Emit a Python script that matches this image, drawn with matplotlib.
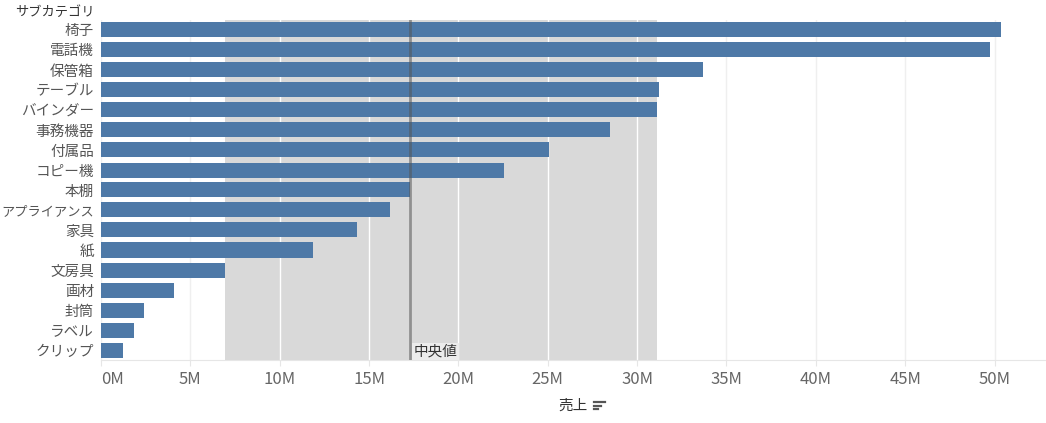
import matplotlib
matplotlib.use("Agg")
import matplotlib.pyplot as plt
from matplotlib.lines import Line2D

plt.rcParams['font.family'] = ['Noto Sans CJK JP', 'DejaVu Sans']

# ---------- DATA ----------
categories = ["椅子", "電話機", "保管箱", "テーブル", "バインダー", "事務機器", "付属品",
              "コピー機", "本棚", "アプライアンス", "家具", "紙", "文房具", "画材",
              "封筒", "ラベル", "クリップ"]
sales_m = [50.38, 49.76, 33.7, 31.2, 31.1, 28.5, 25.07, 22.57, 17.3, 16.2,
           14.35, 11.88, 6.96, 4.1, 2.42, 1.86, 1.25]
tick_values = [0, 5, 10, 15, 20, 25, 30, 35, 40, 45, 50]
tick_labels = ["0M", "5M", "10M", "15M", "20M", "25M", "30M", "35M", "40M", "45M", "50M"]
band_low = 6.96
band_high = 31.1
median_value = 17.3

W, H = 1046, 423
fig = plt.figure(figsize=(W / 100, H / 100), dpi=100)
ax = fig.add_axes([101 / W, 1 - 360 / H, (W - 101) / W, 340 / H])

y = list(range(len(categories)))

# ---------- BAND + GRID ----------
ax.axvspan(band_low, band_high, color="#d9d9d9", zorder=0.5, lw=0)
for t in tick_values:
    inside = band_low < t < band_high
    ax.axvline(t, color="white" if inside else "#efefef", lw=1, zorder=0.8)

# ---------- BARS ----------
ax.barh(y, sales_m, height=0.75, color="#4e79a7", zorder=2)

# ---------- MEDIAN ----------
ax.axvline(median_value, color="#555555", alpha=0.55, lw=2, zorder=3)
ax.text(median_value + 0.2, 16.42, "中央値", fontsize=10.5, color="#333333",
        ha="left", va="bottom", zorder=4,
        bbox=dict(boxstyle="square,pad=0.12", fc="#ececec", ec="none"))

# ---------- AXES ----------
ax.set_xlim(0, (W - 101) / 17.87)
ax.set_ylim(len(categories) - 0.5, -0.5)
ax.set_yticks(y)
ax.set_yticklabels(categories, fontsize=10.5, color="#555555")
ax.set_xticks(tick_values)
ax.set_xticklabels(tick_labels, fontsize=12, color="#666666")
ax.tick_params(axis="y", length=0, pad=5)
ax.tick_params(axis="x", length=4, color="#e6e6e6", pad=4)
for side in ["top", "right", "left"]:
    ax.spines[side].set_visible(False)
ax.spines["bottom"].set_color("#e6e6e6")

# long katakana label is narrower in the original font
for lbl in ax.get_yticklabels():
    if len(lbl.get_text()) > 5:
        lbl.set_fontsize(9.5)

# first tick label nudged right like the original
ax.get_xticklabels()[0].set_horizontalalignment("left")

fig.text(95 / W, 1 - 12 / H, "サブカテゴリ", fontsize=9.5, color="#333333",
         ha="right", va="center")
fig.text(588 / W, 1 - 406 / H, "売上", fontsize=10.5, color="#333333",
         ha="right", va="center")

# sort icon
for i, ln in enumerate([11, 7, 4]):
    yy = 1 - (402 + i * 3.5) / H
    fig.add_artist(Line2D([594 / W, (594 + ln) / W], [yy, yy], color="#555555", lw=1.6))

fig.savefig("out.png", dpi=100)
